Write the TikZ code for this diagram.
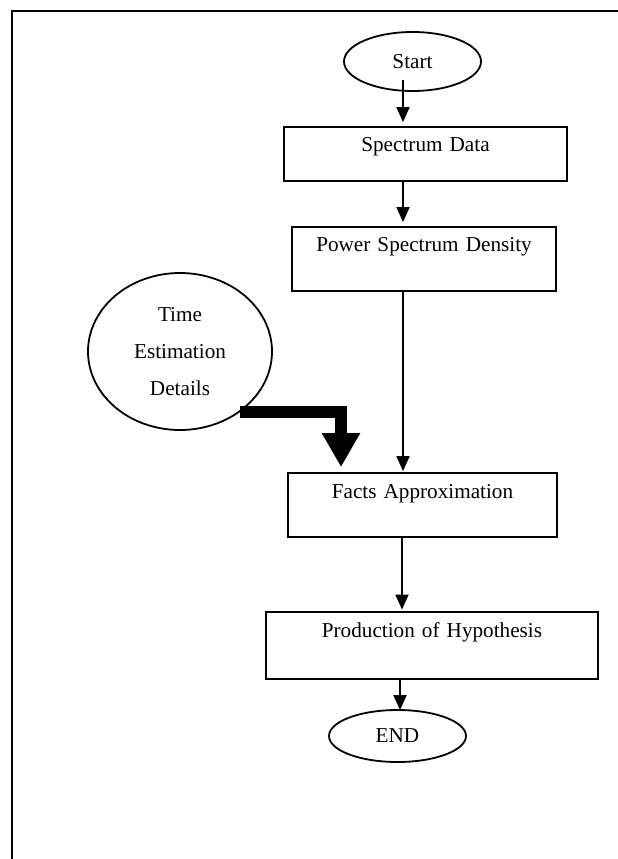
\documentclass[tikz,border=0pt]{standalone}
\usepackage{fontspec}
\setmainfont{Liberation Serif}
\usetikzlibrary{shapes.geometric,arrows.meta,calc}
\begin{document}
\begin{tikzpicture}[x=1pt,y=-1pt,
  every node/.style={font=\fontsize{21.2}{37}\selectfont, inner sep=0pt},
  stepbox/.style={draw, line width=1.8pt, rectangle, align=center},
  term/.style={draw, line width=1.8pt, ellipse},
  arr/.style={line width=1.8pt, -{Triangle[length=15pt,width=13pt]}},
  fatarr/.style={line width=12pt, line join=miter, -{Triangle[length=34pt,width=36pt]}}
]
\useasboundingbox (0,0) rectangle (618,859);
\draw[line width=1.3pt] (12,859) -- (12,11) -- (618,11);

\node[term, minimum width=137pt, minimum height=59pt] (Start) at (412.5,61.5) {Start};
\node[stepbox, text width=283pt, text height=24pt, text depth=30pt] (Spec) at (425.5,154) {Spectrum Data};
\node[stepbox, text width=264pt, text height=24pt, text depth=40pt] (PSD) at (424,259) {Power Spectrum Density};
\node[term, align=center, minimum width=184pt, minimum height=157pt] (Time) at (180,351.5) {Time\\Estimation\\Details};
\node[stepbox, text width=269pt, text height=25pt, text depth=39pt] (Facts) at (422.5,505) {Facts Approximation};
\node[stepbox, text width=332pt, text height=25pt, text depth=42pt] (Prod) at (432,645.5) {Production of Hypothesis};
\node[term, minimum width=137pt, minimum height=52pt] (End) at (397.5,736) {END};

\coordinate (s0) at (403,80);
\coordinate (a1) at (403,0);
\coordinate (a2) at (402,0);
\coordinate (a3) at (400,0);
\coordinate (tk) at (341,0);

\draw[arr, shorten >=4pt] (s0) -- (Spec.north -| s0);
\draw[arr, shorten >=4pt] (Spec.south -| a1) -- (PSD.north -| a1);
\draw[arr, shorten >=1pt] (PSD.south -| a1) -- (Facts.north -| a1);
\draw[arr, shorten >=1.5pt] (Facts.south -| a2) -- (Prod.north -| a2);
\draw[arr, shorten >=-1pt] (Prod.south -| a3) -- (End.north -| a3);
\draw[fatarr, shorten >=5pt] (Time.-45) -| (Facts.north -| tk);
\end{tikzpicture}
\end{document}
